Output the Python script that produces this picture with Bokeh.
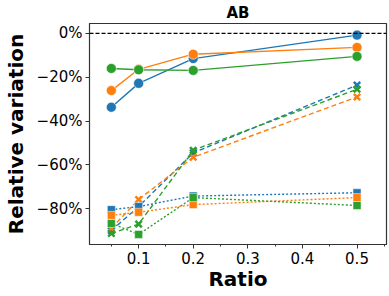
from bokeh.plotting import figure
from bokeh.models import FixedTicker, Span, Range1d
from bokeh.embed import file_html
from bokeh.resources import INLINE

ratios = [0.05, 0.1, 0.2, 0.5]

# solid lines with circles
solid_blue = [-33.7, -22.8, -11.5, -0.8]
solid_orange = [-26.1, -16.4, -9.5, -6.4]
solid_green = [-16.0, -16.6, -16.9, -10.5]

# dashed lines with x markers
dash_blue = [-90.0, -79.0, -54.5, -23.6]
dash_orange = [-88.9, -75.8, -56.5, -29.0]
dash_green = [-91.3, -87.0, -53.3, -25.5]

# dotted lines with squares
dot_blue = [-80.4, -79.0, -74.2, -72.7]
dot_orange = [-83.0, -81.6, -78.1, -74.9]
dot_green = [-86.7, -91.7, -74.9, -78.5]

y_ticks = [0, -20, -40, -60, -80]
y_tick_labels = ["0%", "\u221220%", "\u221240%", "\u221260%", "\u221280%"]
x_ticks = [0.1, 0.2, 0.3, 0.4, 0.5]
x_minor = [0.05, 0.15, 0.25, 0.35, 0.45, 0.55]

BLUE, ORANGE, GREEN = "#1f77b4", "#ff7f0e", "#2ca02c"
FONT = "DejaVu Sans"

p = figure(width=378, height=285, output_backend="svg", toolbar_location=None,
           x_range=Range1d(0.01, 0.554), y_range=Range1d(-96.3, 4.5),
           min_border_left=78, min_border_right=3, min_border_top=21, min_border_bottom=43,
           frame_width=297, frame_height=221)

p.title.text = "AB"
p.title.align = "center"
p.title.text_font = FONT
p.title.text_font_size = "15px"
p.title.text_font_style = "bold"
p.title.text_color = "black"
p.title.offset = 0
p.title.standoff = 3

p.xgrid.visible = False
p.ygrid.visible = False
p.outline_line_color = "#333333"
p.outline_line_width = 1.2
p.background_fill_color = "white"

p.add_layout(Span(location=0, dimension="width", line_color="black",
                  line_dash="4 2", line_width=1.2))

def series(ys, color, dash, marker, size):
    p.line(ratios, ys, line_color=color, line_width=1.4, line_dash=dash)
    if marker == "circle":
        p.scatter(ratios, ys, marker="circle", size=size, fill_color=color,
                  line_color="white", line_width=0.6)
    elif marker == "x":
        p.scatter(ratios, ys, marker="x", size=size, line_color=color, line_width=2.5)
    else:
        p.scatter(ratios, ys, marker="square", size=size, fill_color=color,
                  line_color="white", line_width=0.5)

for ys, c in [(solid_blue, BLUE), (solid_orange, ORANGE), (solid_green, GREEN)]:
    series(ys, c, "solid", "circle", 10)
for ys, c in [(dash_blue, BLUE), (dash_orange, ORANGE), (dash_green, GREEN)]:
    series(ys, c, "5 3", "x", 9)
for ys, c in [(dot_blue, BLUE), (dot_orange, ORANGE), (dot_green, GREEN)]:
    series(ys, c, "2 2", "square", 8)

p.xaxis.ticker = FixedTicker(ticks=x_ticks, minor_ticks=x_minor)
p.yaxis.ticker = FixedTicker(ticks=y_ticks, minor_ticks=[])
p.yaxis.major_label_overrides = {t: l for t, l in zip(y_ticks, y_tick_labels)}

for ax in (p.xaxis[0], p.yaxis[0]):
    ax.axis_line_color = "#333333"
    ax.major_tick_line_color = "#333333"
    ax.minor_tick_line_color = "#333333"
    ax.major_tick_out = 4
    ax.major_tick_in = 0
    ax.minor_tick_out = 2
    ax.minor_tick_in = 0
    ax.major_label_text_font = FONT
    ax.major_label_text_font_size = "15px"
    ax.major_label_text_color = "black"
    ax.axis_label_text_font = FONT
    ax.axis_label_text_font_size = "20px"
    ax.axis_label_text_font_style = "bold"
    ax.axis_label_text_color = "black"
    ax.major_label_standoff = 3

p.xaxis.axis_label = "Ratio"
p.yaxis.axis_label = "Relative variation"
p.xaxis.axis_label_standoff = 0
p.yaxis.axis_label_standoff = 6

open("out.html", "w").write(file_html(p, INLINE))
